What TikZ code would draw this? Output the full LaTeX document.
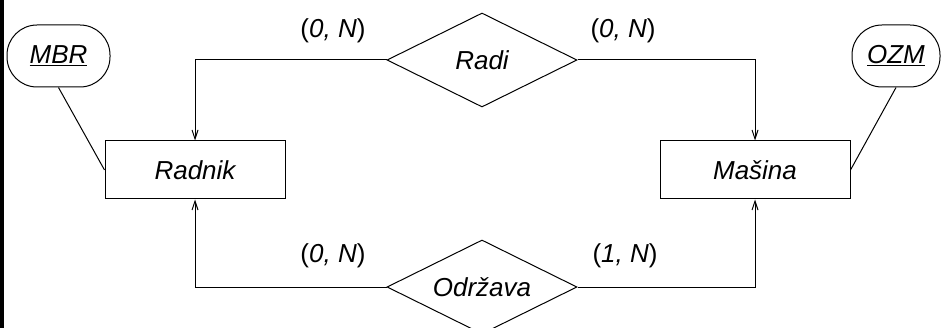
\documentclass[tikz,border=0pt]{standalone}
\usepackage{fontspec}
\setmainfont{Liberation Sans}
\usetikzlibrary{shapes.geometric,arrows.meta}
\begin{document}
\begin{tikzpicture}[x=1pt,y=-1pt,
  every node/.style={font=\fontsize{26}{30}\selectfont\itshape},
  entity/.style={draw,line width=1pt,minimum width=180pt,minimum height=58pt,inner sep=0pt},
  relation/.style={draw,diamond,aspect=2,line width=1pt,minimum width=190pt,minimum height=94pt,inner sep=0pt},
  attr/.style={draw,line width=1pt,rounded corners=30pt,minimum height=62pt,inner sep=0pt},
  card/.style={font=\fontsize{26}{30}\selectfont\upshape},
  conn/.style={line width=1pt,-{Straight Barb[length=9pt,width=6pt]}},
  plain/.style={line width=1pt}]
\useasboundingbox (0,0) rectangle (941,328);
\clip (0,0) rectangle (941,328);
\fill[black] (0,0) rectangle (3.5,328);
\node[entity] (radnik) at (195,170) {Radnik};
\node[entity,minimum width=190pt] (masina) at (755,170) {Mašina};
\node[relation] (radi) at (482,60) {Radi};
\node[relation] (odrzava) at (482,287) {Održava};
\node[attr,minimum width=103pt] (mbr) at (58.5,56) {\underline{MBR}};
\node[attr,minimum width=88pt] (ozm) at (896,56) {\underline{OZM}};
\draw[conn] (radi.west) -| (radnik.north);
\draw[conn] (radi.east) -| (masina.north);
\draw[conn] (odrzava.west) -| (radnik.south);
\draw[conn] (odrzava.east) -| (masina.south);
\draw[plain] (mbr.south) -- (radnik.west);
\draw[plain] (ozm.south) -- (masina.east);
\node[card] (l1) at (333,31) {(\textit{0, N})};
\node[card] (l2) at (623,31) {(\textit{0, N})};
\node[card] (l3) at (333,256) {(\textit{0, N})};
\node[card] (l4) at (625,256) {(\textit{1, N})};
\end{tikzpicture}
\end{document}
